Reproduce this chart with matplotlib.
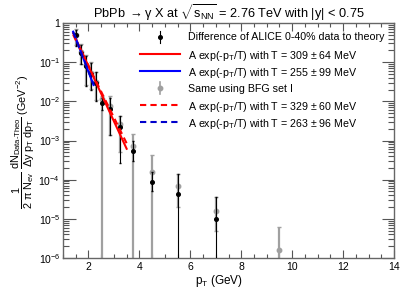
import numpy as np
import matplotlib
matplotlib.use("Agg")
import matplotlib.pyplot as plt
from matplotlib.ticker import FixedLocator, FixedFormatter, MultipleLocator, LogLocator, NullFormatter

plt.rcParams['font.family'] = ['Liberation Sans', 'DejaVu Sans']
plt.rcParams['mathtext.fontset'] = 'custom'
plt.rcParams['mathtext.rm'] = 'Liberation Sans'
plt.rcParams['mathtext.it'] = 'Liberation Sans'
plt.rcParams['mathtext.bf'] = 'Liberation Sans:bold'

# ---- data ----
pt_diff = [1.5, 1.7, 1.9, 2.1, 2.3, 2.55, 2.85, 3.25, 3.75, 4.5, 5.5, 7.0]
y_diff = [0.48, 0.175, 0.080, 0.049, 0.030, 0.0089, 0.0064, 0.0022, 5.4e-4, 8.7e-5, 4.3e-5, 1.0e-5]
y_diff_hi = [0.68, 0.28, 0.145, 0.098, 0.055, 0.0125, 0.012, 0.0043, 1.0e-3, 1.6e-4, 1.4e-4, 3.6e-5]
y_diff_lo = [0.26, 0.089, 0.025, 0.020, 0.0105, 0.006, 1.35e-3, 2.6e-4, 3.0e-4, 5e-5, 1e-7, 1e-7]

pt_bfg = [1.5, 1.7, 1.9, 2.1, 2.3, 2.55, 2.85, 3.25, 3.75, 4.5, 5.5, 7.0, 9.5]
y_bfg = [0.50, 0.18, 0.085, 0.052, 0.032, 0.0115, 0.0078, 0.0026, 7.2e-4, 1.6e-4, 6.9e-5, 1.6e-5, 1.6e-6]
y_bfg_hi = [0.70, 0.29, 0.15, 0.10, 0.057, 0.0138, 0.0135, 0.0043, 1.5e-3, 4.2e-4, 1.4e-4, 3.6e-5, 6.3e-6]
y_bfg_lo = [0.27, 0.09, 0.026, 0.021, 0.011, 1e-7, 1.4e-3, 5e-4, 1e-7, 1e-7, 2e-5, 5e-6, 1e-7]

# fits: (T in GeV, value at start, range)
fit_T = [0.309, 0.255, 0.329, 0.263]
fit_y0 = [0.55, 0.60, 0.50, 0.58]
fit_lo = [1.4, 1.4, 1.4, 1.4]
fit_hi = [3.5, 2.2, 3.55, 2.2]
fit_color = ['#ff0000', '#0000ff', '#ff0000', '#0000cc']
fit_style = ['-', '-', '--', '--']
fit_labels = [r'A exp(-p$_{\rm T}$/T) with T = 309 $\pm$ 64 MeV',
              r'A exp(-p$_{\rm T}$/T) with T = 255 $\pm$ 99 MeV',
              r'A exp(-p$_{\rm T}$/T) with T = 329 $\pm$ 60 MeV',
              r'A exp(-p$_{\rm T}$/T) with T = 263 $\pm$ 96 MeV']

W, H = 415, 289
fig = plt.figure(figsize=(W/100, H/100), dpi=100)
L, R, TOP, BOT = 63, 394, 23, 258
ax = fig.add_axes([L/W, 1-BOT/H, (R-L)/W, (BOT-TOP)/H])
ax.set_yscale('log')
ax.set_xlim(1, 14)
ax.set_ylim(1e-6, 1)

gray = '#a0a0a0'
yb = np.array(y_bfg)
ax.errorbar(pt_bfg, y_bfg, yerr=[yb - np.array(y_bfg_lo), np.array(y_bfg_hi) - yb],
            fmt='o', ms=3.2, color=gray, ecolor=gray, elinewidth=1.6, capsize=1.2, zorder=2)
yd = np.array(y_diff)
ax.errorbar(pt_diff, y_diff, yerr=[yd - np.array(y_diff_lo), np.array(y_diff_hi) - yd],
            fmt='o', ms=2.6, color='black', ecolor='black', elinewidth=0.8, capsize=1.0, zorder=3)

for T, y0, lo, hi, c, ls in zip(fit_T, fit_y0, fit_lo, fit_hi, fit_color, fit_style):
    A = y0 * np.exp(lo / T)
    xx = np.linspace(lo, hi, 50)
    kw = dict(dashes=(3, 2)) if ls == '--' else {}
    ax.plot(xx, A * np.exp(-xx / T), color=c, lw=1.5, zorder=4, **kw)

# ticks
ax.xaxis.set_major_locator(MultipleLocator(2))
ax.xaxis.set_minor_locator(MultipleLocator(0.5))
ax.yaxis.set_major_locator(FixedLocator([1e-6, 1e-5, 1e-4, 1e-3, 1e-2, 1e-1, 1]))
ax.yaxis.set_major_formatter(FixedFormatter([r'$10^{-6}$', r'$10^{-5}$', r'$10^{-4}$', r'$10^{-3}$',
                                             r'$10^{-2}$', r'$10^{-1}$', '1']))
ax.yaxis.set_minor_locator(LogLocator(base=10, subs=np.arange(2, 10)))
ax.yaxis.set_minor_formatter(NullFormatter())
ax.tick_params(axis='both', which='both', direction='in', top=True, right=True,
               colors='#555555', labelcolor='black', labelsize=7.5, width=0.8)
ax.tick_params(axis='x', which='major', length=6, pad=3)
ax.tick_params(axis='x', which='minor', length=3)
ax.tick_params(axis='y', which='major', length=9, pad=2)
ax.tick_params(axis='y', which='minor', length=4.5)
for s in ax.spines.values():
    s.set_color('#666666')
    s.set_linewidth(1.0)

ax.set_title(r'PbPb $\rightarrow\gamma$ X at $\sqrt{\mathrm{s}_{\rm NN}}$ = 2.76 TeV with |y| < 0.75',
             fontsize=9.2, pad=3)
ax.text(0.544, -0.062, r'p$_{\rm T}$ (GeV)', transform=ax.transAxes, ha='right', va='top', fontsize=8.5)
fig.text(0.056, 0.51, r'$\dfrac{1}{2\ \pi\ N_{ev}}\ \dfrac{dN_{Data\text{-}Theo}}{\Delta y\ p_{T}\ dp_{T}}$ (GeV$^{-2}$)',
         rotation=90, ha='center', va='center', fontsize=7.8)

# manual legend
labels = ['Difference of ALICE 0-40% data to theory', fit_labels[0], fit_labels[1],
          'Same using BFG set I', fit_labels[2], fit_labels[3]]
kinds = ['pt_black', 0, 1, 'pt_gray', 2, 3]
def fx(px):
    return (px - L) / (R - L)
def fy(py):
    return (BOT - py) / (BOT - TOP)
for i, (lab, kind) in enumerate(zip(labels, kinds)):
    py = 36.5 + 17.1 * i
    yy = fy(py)
    if kind == 'pt_black':
        ax.plot([fx(160), fx(160)], [fy(py - 6), fy(py + 6)], color='black', lw=0.8, transform=ax.transAxes, clip_on=False)
        ax.plot([fx(160)], [yy], 'o', ms=2.6, color='black', transform=ax.transAxes, clip_on=False)
    elif kind == 'pt_gray':
        ax.plot([fx(160), fx(160)], [fy(py - 6), fy(py + 6)], color=gray, lw=1.2, transform=ax.transAxes, clip_on=False)
        ax.plot([fx(160)], [yy], 'o', ms=3.2, color=gray, transform=ax.transAxes, clip_on=False)
    else:
        kw = dict(dashes=(3, 2)) if fit_style[kind] == '--' else {}
        ax.plot([fx(140), fx(180)], [yy, yy], color=fit_color[kind], lw=1.5, transform=ax.transAxes, **kw)
    ax.text(fx(188), yy, lab, transform=ax.transAxes, ha='left', va='center_baseline', fontsize=7.7)

fig.savefig('out.png', dpi=100)
